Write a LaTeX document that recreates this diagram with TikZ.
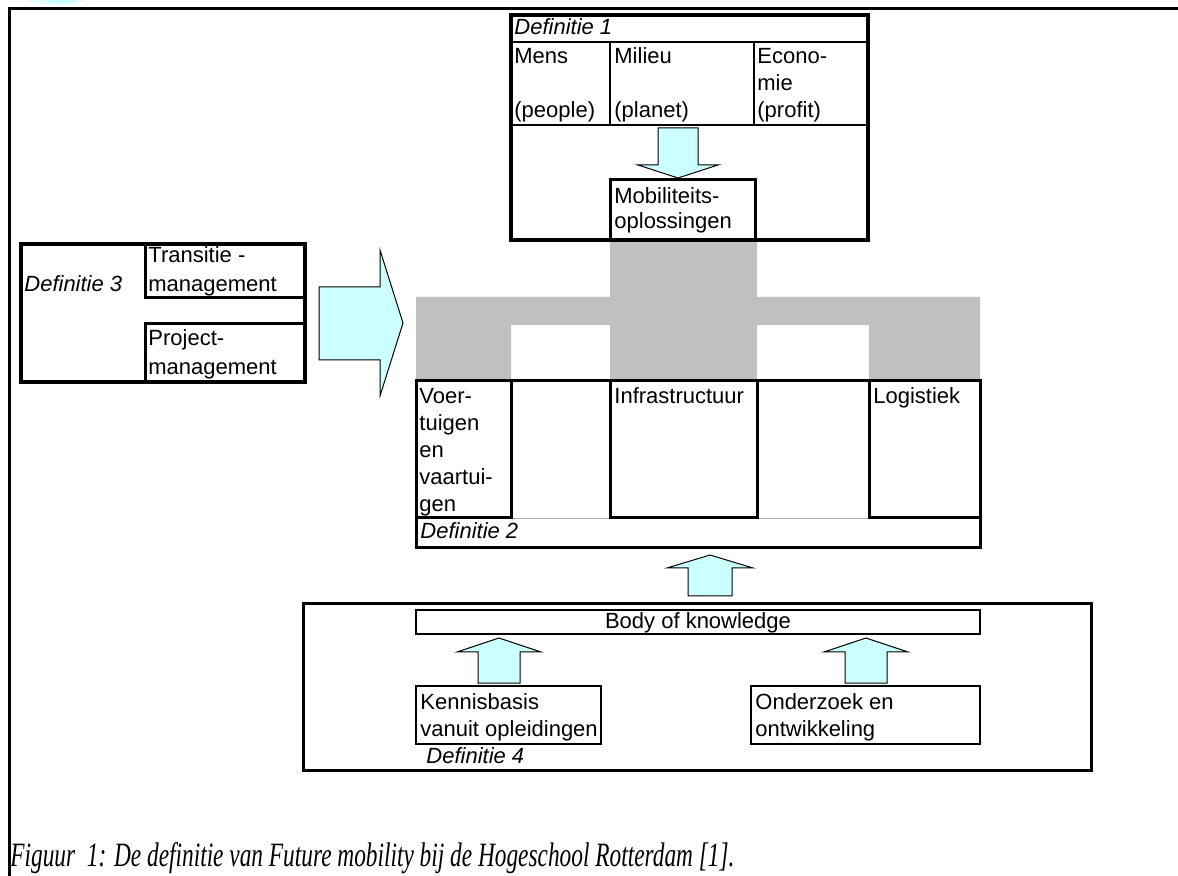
\documentclass[tikz,border=0pt]{standalone}
\usepackage{fontspec}
\setmainfont{Liberation Sans}
\newfontfamily\capfont{Liberation Serif}
\definecolor{arrowcyan}{HTML}{CCFFFF}
\definecolor{bandgray}{HTML}{C0C0C0}
\begin{document}
\begin{tikzpicture}[x=0.5pt,y=-0.5pt,
  txt/.style={anchor=base west, inner sep=0pt, font=\fontsize{11}{13}\selectfont},
  itxt/.style={txt, font=\fontsize{11}{13}\selectfont\itshape},
  heavy/.style={draw=black, line width=2pt},
  medium/.style={draw=black, line width=1.5pt},
  light/.style={draw=black, line width=1pt},
  blockarrow/.style={fill=arrowcyan, draw=black, line width=0.5pt, line join=miter}]
\useasboundingbox (0,0) rectangle (1178,876);
\clip (0,0) rectangle (1178,876);

% faint cyan glow at the top edge
\fill[arrowcyan!60!cyan, opacity=0.18] (57,-3) ellipse [x radius=32, y radius=8];
\fill[arrowcyan!40!cyan, opacity=0.25] (60,-3) ellipse [x radius=18, y radius=6];

% page frame
\draw[line width=1.5pt] (9,900) -- (9,9) -- (1200,9);

% grey connecting band behind the blocks
\fill[bandgray] (610,238) -- (757,238) -- (757,297) -- (980,297) -- (980,381)
  -- (869,381) -- (869,325) -- (757,325) -- (757,381) -- (610,381) -- (610,325)
  -- (511,325) -- (511,381) -- (416,381) -- (416,297) -- (610,297) -- cycle;

% ---- Definitie 1 ----
\draw[heavy] (511,15) rectangle (868,240);
\draw[light] (511,42) -- (868,42);
\draw[light] (511,125) -- (868,125);
\draw[light] (610,42) -- (610,125);
\draw[light] (754,42) -- (754,125);
\node[itxt] (def1) at (514,35) {Definitie 1};
\node[txt] (mens) at (514,64) {Mens};
\node[txt] (people) at (514,118) {(people)};
\node[txt] (milieu) at (614,64) {Milieu};
\node[txt] (planet) at (614,118) {(planet)};
\node[txt] (econo) at (757,64) {Econo-};
\node[txt] (mie) at (757,91) {mie};
\node[txt] (profit) at (757,118) {(profit)};
\draw[blockarrow] (658,128) -- (698,128) -- (698,165) -- (718,165) -- (678,178)
  -- (638,165) -- (658,165) -- cycle;
\draw[medium, fill=white] (610,180) rectangle (755,240);
\node[txt] (mob1) at (614,204) {Mobiliteits-};
\node[txt] (mob2) at (614,229) {oplossingen};

% ---- Definitie 3 ----
\draw[heavy] (21,244) rectangle (305,382);
\draw[medium] (145,244) rectangle (305,298);
\draw[medium] (145,324) rectangle (305,382);
\node[itxt] (def3) at (24,292) {Definitie 3};
\node[txt] (trans1) at (148,263) {Transitie -};
\node[txt] (trans2) at (148,292) {management};
\node[txt] (proj1) at (148,346) {Project-};
\node[txt] (proj2) at (148,375) {management};
\draw[blockarrow] (319,287) -- (380,287) -- (380,250) -- (403,323) -- (380,396)
  -- (380,360) -- (319,360) -- cycle;

% ---- Definitie 2 ----
\draw[black!30, line width=0.4pt] (511,518) -- (610,518) (757,518) -- (869,518);
\draw[medium] (416,381) rectangle (511,518);
\draw[medium] (610,381) rectangle (757,518);
\draw[medium] (869,381) rectangle (980,518);
\draw[medium] (416,381) rectangle (980,548);
\node[txt] (voer1) at (419,404) {Voer-};
\node[txt] (voer2) at (419,431) {tuigen};
\node[txt] (voer3) at (419,458) {en};
\node[txt] (voer4) at (419,485) {vaartui-};
\node[txt] (voer5) at (419,512) {gen};
\node[txt] (infra) at (614,404) {Infrastructuur};
\node[txt] (logi) at (873,404) {Logistiek};
\node[itxt] (def2) at (420,539) {Definitie 2};

\draw[blockarrow] (688,596) -- (732,596) -- (732,568) -- (753,568) -- (710,555)
  -- (667,568) -- (688,568) -- cycle;

% ---- Definitie 4 ----
\draw[medium] (303,604) rectangle (1091,770);
\draw[light] (416,610) rectangle (980,634);
\node[txt, anchor=base] (body) at (698,629) {Body of knowledge};
\draw[blockarrow] (478,683) -- (520,683) -- (520,652) -- (541,652) -- (499,638)
  -- (457,652) -- (478,652) -- cycle;
\draw[blockarrow] (845,683) -- (887,683) -- (887,652) -- (908,652) -- (866,638)
  -- (824,652) -- (845,652) -- cycle;
\draw[light] (416,686) rectangle (601,744);
\draw[light] (751,686) rectangle (980,744);
\node[txt] (kb1) at (420,710) {Kennisbasis};
\node[txt] (kb2) at (420,736) {vanuit opleidingen};
\node[txt] (oz1) at (755,710) {Onderzoek en};
\node[txt] (oz2) at (755,736) {ontwikkeling};
\node[itxt] (def4) at (426,763) {Definitie 4};

% caption
\node[anchor=base west, inner sep=0pt] (caption) at (10,866)
  {\resizebox{362pt}{12pt}{\capfont\itshape Figuur\ \ 1: De definitie van Future mobility bij de Hogeschool Rotterdam [1].}};
\end{tikzpicture}
\end{document}
